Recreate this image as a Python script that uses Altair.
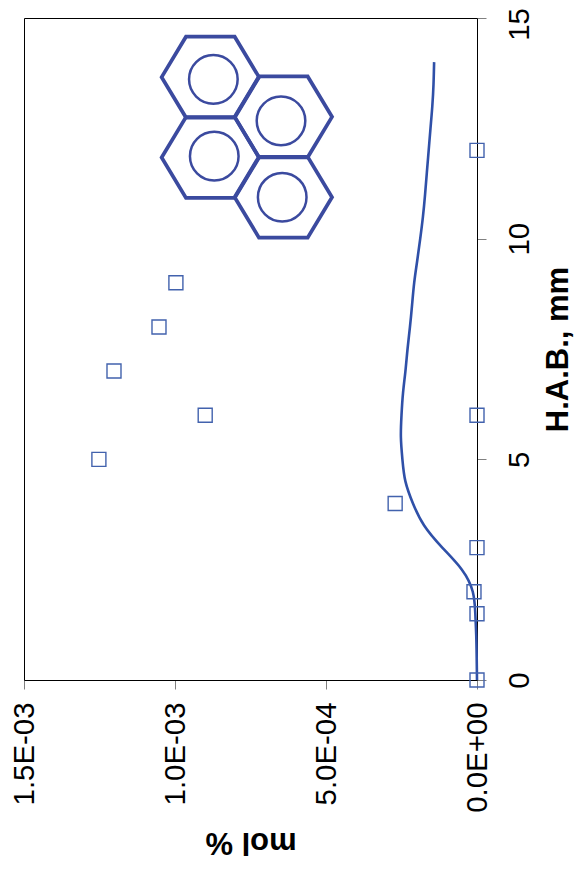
import altair as alt
import pandas as pd

curve_hab = [0, 0.5, 1, 1.5, 2, 2.5, 3, 3.5, 4, 4.5, 5, 5.5, 6, 6.5, 7, 7.5, 8, 8.5, 9, 9.5, 10, 10.5, 11, 11.5, 12, 12.5, 13, 13.5, 14]
curve_mol = [0, 1e-6, 2.5e-6, 5.6e-6, 1.4e-5, 5.0e-5, 1.15e-4, 1.75e-4, 2.12e-4, 2.37e-4, 2.47e-4, 2.52e-4, 2.50e-4,
             2.45e-4, 2.37e-4, 2.30e-4, 2.22e-4, 2.15e-4, 2.08e-4, 1.98e-4, 1.88e-4, 1.79e-4, 1.72e-4, 1.66e-4,
             1.60e-4, 1.54e-4, 1.48e-4, 1.44e-4, 1.42e-4]
pts_hab = [0, 1.5, 2, 3, 4, 5, 6, 6, 7, 8, 9, 12]
pts_mol = [0, 0, 1e-5, 0, 2.71e-4, 1.252e-3, 9.0e-4, 0, 1.202e-3, 1.053e-3, 9.97e-4, 0]
hex_hab = [13.66, 12.76, 11.84, 10.94]
hex_mol = [8.83e-4, 6.413e-4, 8.83e-4, 6.413e-4]
ring_hab = [13.61, 12.67, 11.87, 10.94]
ring_mol = [8.73e-4, 6.49e-4, 8.70e-4, 6.45e-4]
x_ticks = [0, 0.0005, 0.001, 0.0015]
x_labels = ["0.0E+00", "5.0E-04", "1.0E-03", "1.5E-03"]
y_ticks = [0, 5, 10, 15]

LINE = "#2f50a8"
SQUARE = "#4262ad"
HEX = "#3b4a9f"
FONT = "Liberation Sans"
HEX_PATH = "M-1,0L-0.5,-0.83L0.5,-0.83L1,0L0.5,0.83L-0.5,0.83Z"

label_expr = "{" + ",".join(f"'{t}':'{l}'" for t, l in zip(x_ticks, x_labels)) + "}[''+datum.value]"

x_enc = alt.X(
    "m:Q",
    scale=alt.Scale(domain=[0, 0.0015], reverse=True, nice=False),
    axis=alt.Axis(
        values=x_ticks, labelExpr=label_expr, grid=False, orient="bottom",
        labelAngle=270, labelAlign="right", labelBaseline="middle",
        labelFont=FONT, labelFontSize=29.4, labelColor="black", labelPadding=13,
        labelOverlap=False, labelFlush=False,
        tickSize=9, tickColor="#808080", domainColor="black",
        title="mol %", titleFont=FONT, titleFontSize=31, titleFontWeight="bold",
        titleAngle=180, titleBaseline="middle", titleAlign="center", titleColor="black", titlePadding=29,
    ),
)
y_enc = alt.Y(
    "h:Q",
    scale=alt.Scale(domain=[0, 15], nice=False),
    axis=alt.Axis(
        values=y_ticks, format="d", grid=False, orient="right",
        labelAngle=270, labelAlign="center", labelBaseline="middle",
        labelFont=FONT, labelFontSize=29.4, labelColor="black", labelPadding=33,
        labelOverlap=False, labelFlush=False, labelBound=False,
        labelOffset={"expr": "datum.value == 15 ? 6 : 0"},
        tickSize=9, tickColor="#808080", domainColor="black",
        title="H.A.B., mm", titleFont=FONT, titleFontSize=31, titleFontWeight="bold",
        titleAngle=270, titleBaseline="middle", titleAlign="center", titleColor="black", titlePadding=25.5,
    ),
)

curve = alt.Chart(pd.DataFrame({"h": curve_hab, "m": curve_mol})).mark_line(
    color=LINE, strokeWidth=2.6, interpolate="natural"
).encode(x=x_enc, y=y_enc, order="h:Q")
points = alt.Chart(pd.DataFrame({"h": pts_hab, "m": pts_mol})).mark_point(
    shape="square", size=196, filled=False, color=SQUARE, strokeWidth=1.4, opacity=1
).encode(x=x_enc, y=y_enc)
hexes = alt.Chart(pd.DataFrame({"h": hex_hab, "m": hex_mol})).mark_point(
    shape=HEX_PATH, size=9487, filled=False, color=HEX, strokeWidth=3.7, opacity=1
).encode(x=x_enc, y=y_enc)
rings = alt.Chart(pd.DataFrame({"h": ring_hab, "m": ring_mol})).mark_point(
    shape="circle", size=2362, filled=False, color=HEX, strokeWidth=2.5, opacity=1
).encode(x=x_enc, y=y_enc)

chart = alt.layer(hexes, rings, curve, points).properties(
    width=453, height=662,
    padding={"left": 16, "top": 10, "right": 99, "bottom": 183},
    autosize=alt.AutoSizeParams(type="none"),
    background="white",
).configure_view(stroke="black", strokeWidth=1)

chart.save("out.html", embed_options={"renderer": "svg", "actions": False})
